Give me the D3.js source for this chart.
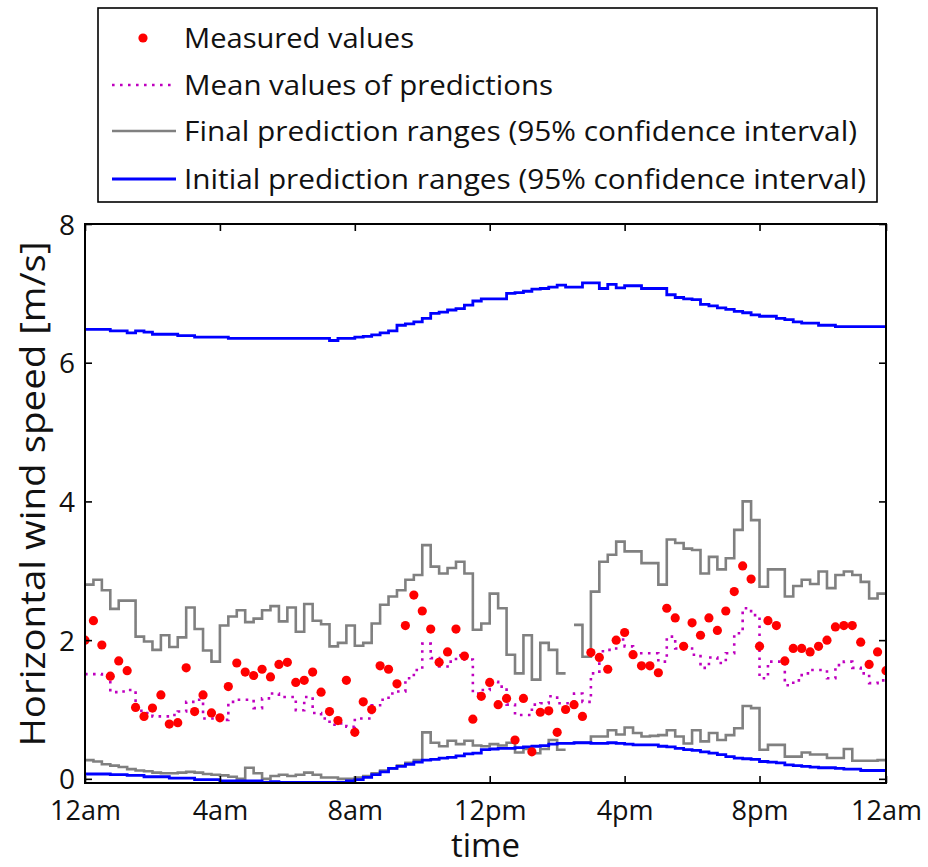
<!DOCTYPE html>
<html><head><meta charset="utf-8">
<script src="https://cdn.jsdelivr.net/npm/d3@7"></script>
<style>body{margin:0;background:#fff}svg text{font-family:"Open Sans",sans-serif;fill:#111}</style>
</head><body><svg id="c" width="928" height="867"></svg>
<script>
const tickIndex = [0,16,32,48,64,80,95];
const tickLabels = ["12am","4am","8am","12pm","4pm","8pm","12am"];
const yTicks = [0,2,4,6,8];
const seriesNames = ["Measured values","Mean values of predictions","Final prediction ranges (95% confidence interval)","Initial prediction ranges (95% confidence interval)"];
const measured = [2.00,2.28,1.93,1.48,1.70,1.56,1.03,0.90,1.02,1.21,0.79,0.81,1.60,0.97,1.21,0.95,0.88,1.33,1.67,1.54,1.49,1.58,1.47,1.65,1.68,1.39,1.42,1.54,1.25,0.97,0.84,1.42,0.67,1.11,1.00,1.63,1.58,1.37,2.21,2.65,2.42,2.16,1.68,1.83,2.16,1.77,0.86,1.19,1.39,1.07,1.16,0.56,1.16,0.39,0.96,0.98,0.67,1.00,1.07,0.90,1.82,1.75,1.58,2.00,2.11,1.79,1.63,1.63,1.53,2.46,2.32,1.91,2.25,2.07,2.32,2.14,2.42,2.70,3.07,2.88,1.91,2.28,2.21,1.70,1.88,1.88,1.83,1.91,2.00,2.19,2.21,2.21,1.97,1.65,1.83,1.56];
const meanPred = [1.51,1.51,1.47,1.25,1.26,1.28,0.98,0.95,0.90,0.90,0.92,0.97,1.11,1.14,0.87,0.87,0.85,1.11,1.14,1.14,1.02,1.16,1.23,1.18,1.18,0.99,1.18,0.95,0.87,0.78,0.80,0.75,0.87,0.87,1.06,1.14,1.23,1.26,1.45,1.57,1.95,1.74,1.62,1.69,1.78,1.72,1.23,1.28,1.40,1.33,1.07,0.92,0.92,1.07,1.09,1.19,1.09,1.09,1.23,1.11,1.52,1.84,1.86,2.01,1.91,1.81,1.81,1.81,1.69,2.05,1.88,1.88,1.79,1.60,1.75,1.67,1.81,2.10,2.46,2.36,1.45,1.69,1.69,1.35,1.42,1.52,1.57,1.57,1.45,1.64,1.69,1.60,1.52,1.38,1.42,1.45];
const finalUpper = [2.80,2.87,2.72,2.45,2.57,2.57,2.05,1.98,1.86,2.07,1.90,2.04,2.47,2.16,1.85,1.69,2.21,2.34,2.43,2.26,2.31,2.43,2.49,2.27,2.47,2.12,2.52,2.28,2.23,1.91,1.96,2.21,1.92,1.96,2.24,2.51,2.63,2.72,2.87,2.94,3.37,3.06,2.96,3.04,3.13,2.96,2.15,2.24,2.67,2.46,1.79,1.52,2.07,1.43,1.96,1.86,1.52,null,2.22,1.76,2.70,3.13,3.23,3.42,3.28,3.28,3.11,3.11,2.80,3.45,3.40,3.32,3.30,2.96,3.20,3.02,3.18,3.59,4.00,3.73,2.77,3.02,3.02,2.63,2.78,2.87,2.81,2.99,2.75,2.94,2.99,2.94,2.84,2.60,2.67,2.67];
const finalLower = [0.27,0.25,0.21,0.19,0.17,0.14,0.12,0.11,0.09,0.08,0.08,0.09,0.10,0.09,0.07,0.06,0.05,0.03,0.00,0.16,0.08,0.00,0.04,0.06,0.04,0.06,0.09,0.06,0.02,0.02,0.00,0.00,0.02,0.04,0.08,0.12,0.15,0.19,0.23,0.27,0.67,0.52,0.47,0.55,0.50,0.55,0.48,0.47,0.50,0.48,0.52,0.38,0.43,0.37,0.43,0.56,0.42,null,0.52,0.52,0.61,0.61,0.70,0.64,0.74,0.66,0.61,0.62,0.63,0.70,0.61,0.51,0.70,0.54,0.66,0.56,0.63,0.73,1.05,1.02,0.42,0.49,0.49,0.32,0.32,0.38,0.35,0.35,0.30,0.30,0.43,0.26,0.26,0.26,0.27,0.25];
const initUpper = [6.48,6.48,6.48,6.46,6.46,6.43,6.46,6.44,6.41,6.41,6.41,6.39,6.39,6.37,6.37,6.37,6.37,6.35,6.35,6.35,6.35,6.35,6.35,6.35,6.35,6.35,6.35,6.35,6.35,6.32,6.35,6.35,6.37,6.38,6.40,6.43,6.46,6.54,6.56,6.59,6.64,6.71,6.73,6.76,6.78,6.83,6.89,6.92,6.92,6.92,7.00,7.01,7.03,7.06,7.07,7.09,7.12,7.09,7.09,7.15,7.15,7.07,7.13,7.08,7.11,7.11,7.07,7.07,7.07,6.98,6.94,6.92,6.91,6.84,6.82,6.79,6.77,6.74,6.72,6.69,6.67,6.67,6.64,6.62,6.59,6.57,6.57,6.54,6.54,6.52,6.52,6.52,6.52,6.52,6.52,6.52];
const initLower = [0.07,0.07,0.07,0.06,0.06,0.05,0.05,0.03,0.03,0.03,0.01,0.01,0.01,-0.01,-0.01,-0.01,-0.03,-0.03,-0.03,-0.03,-0.03,-0.05,-0.04,-0.05,-0.05,-0.05,-0.05,-0.05,-0.05,-0.05,-0.05,-0.03,-0.01,0.02,0.06,0.10,0.15,0.18,0.21,0.24,0.27,0.28,0.30,0.31,0.33,0.36,0.37,0.42,0.43,0.44,0.44,0.45,0.46,0.47,0.48,0.50,0.51,0.51,0.52,0.52,0.51,0.51,0.52,0.51,0.50,0.49,0.49,0.49,0.47,0.46,0.44,0.42,0.41,0.39,0.37,0.35,0.32,0.30,0.29,0.28,0.25,0.24,0.23,0.20,0.19,0.18,0.17,0.16,0.16,0.15,0.14,0.14,0.12,0.12,0.12,0.12];

const svg = d3.select("#c");
const L=85, R=886, T=224, B=783;
const x = d3.scaleLinear().domain([0, measured.length-1]).range([L, R]);
const y = d3.scaleLinear().domain([-0.06, 8]).range([B, T]);

svg.append("defs").append("clipPath").attr("id","clip")
  .append("rect").attr("x",L).attr("y",T).attr("width",R-L).attr("height",B-T);

function stairs(v){
  const pts=[];
  for(let i=0;i<v.length-1;i++){ pts.push({x:i,y:v[i]}); pts.push({x:i+1,y:v[i]}); }
  pts.push({x:v.length-1,y:v[v.length-1]});
  return pts;
}
const line = d3.line().defined(d=>d.y!=null).x(d=>x(d.x)).y(d=>y(d.y));
const g = svg.append("g").attr("clip-path","url(#clip)");
const gray="#808080", blue="#0000ff", mag="#bf00bf", red="#ff0000";
[finalUpper, finalLower].forEach(s=>g.append("path").attr("d",line(stairs(s))).attr("fill","none").attr("stroke",gray).attr("stroke-width",2.6));
[initUpper, initLower].forEach(s=>g.append("path").attr("d",line(stairs(s))).attr("fill","none").attr("stroke",blue).attr("stroke-width",2.8));
g.append("path").attr("d",line(stairs(meanPred))).attr("fill","none").attr("stroke",mag).attr("stroke-width",2.6).attr("stroke-dasharray","2.6,5.4");
g.selectAll("circle.m").data(measured).join("circle").attr("class","m")
  .attr("cx",(d,i)=>x(i)).attr("cy",d=>y(d)).attr("r",4.6).attr("fill",red);

// axes (box with inward ticks)
const xb = svg.append("g").attr("transform",`translate(0,${B})`)
  .call(d3.axisBottom(x).tickValues(tickIndex).tickFormat(d=>tickLabels[tickIndex.indexOf(d)]).tickSizeInner(-7).tickSizeOuter(0).tickPadding(14));
const xt = svg.append("g").attr("transform",`translate(0,${T})`)
  .call(d3.axisTop(x).tickValues(tickIndex).tickFormat("").tickSizeInner(-7).tickSizeOuter(0));
const yl = svg.append("g").attr("transform",`translate(${L},0)`)
  .call(d3.axisLeft(y).tickValues(yTicks).tickFormat(d3.format("d")).tickSizeInner(-7).tickSizeOuter(0).tickPadding(10));
const yr = svg.append("g").attr("transform",`translate(${R},0)`)
  .call(d3.axisRight(y).tickValues(yTicks).tickFormat("").tickSizeInner(-7).tickSizeOuter(0));
[xb,xt,yl,yr].forEach(a=>{a.select(".domain").remove();a.selectAll("line").attr("stroke","#000").attr("stroke-width",1.6);});
xb.selectAll("text").attr("font-size",27).attr("fill","#111").attr("font-family","Open Sans").attr("y",0).attr("dy",0)
  .attr("transform","translate(0,37)");
yl.selectAll("text").attr("font-size",28).attr("fill","#111").attr("font-family","Open Sans").attr("dy","0.36em");
svg.append("rect").attr("x",L).attr("y",T).attr("width",R-L).attr("height",B-T).attr("fill","none").attr("stroke","#000").attr("stroke-width",2);

// titles
svg.append("text").attr("x",(L+R)/2).attr("y",857).attr("text-anchor","middle").attr("font-size",33).text("time");
svg.append("text").attr("transform","translate(45,494) rotate(-90)").attr("text-anchor","middle").attr("font-size",34)
  .attr("textLength",505).attr("lengthAdjust","spacingAndGlyphs").text("Horizontal wind speed [m/s]");

// legend
const lg = svg.append("g");
lg.append("rect").attr("x",98).attr("y",8).attr("width",779).attr("height",194).attr("fill","#fff").attr("stroke","#000").attr("stroke-width",1.6);
const rowsY=[38,85,131,179], textW=[230,369,673,682];
rowsY.forEach((ry,k)=>{
  if(k===0) lg.append("circle").attr("cx",143).attr("cy",ry).attr("r",4.6).attr("fill",red);
  if(k===1) lg.append("line").attr("x1",112).attr("x2",176).attr("y1",ry).attr("y2",ry).attr("stroke",mag).attr("stroke-width",2.6).attr("stroke-dasharray","2.6,5.4");
  if(k===2) lg.append("line").attr("x1",112).attr("x2",176).attr("y1",ry).attr("y2",ry).attr("stroke",gray).attr("stroke-width",2.6);
  if(k===3) lg.append("line").attr("x1",112).attr("x2",176).attr("y1",ry).attr("y2",ry).attr("stroke",blue).attr("stroke-width",2.8);
  lg.append("text").attr("x",184).attr("y",ry+10).attr("font-size",27)
    .attr("textLength",textW[k]).attr("lengthAdjust","spacingAndGlyphs").text(seriesNames[k]);
});
</script></body></html>
